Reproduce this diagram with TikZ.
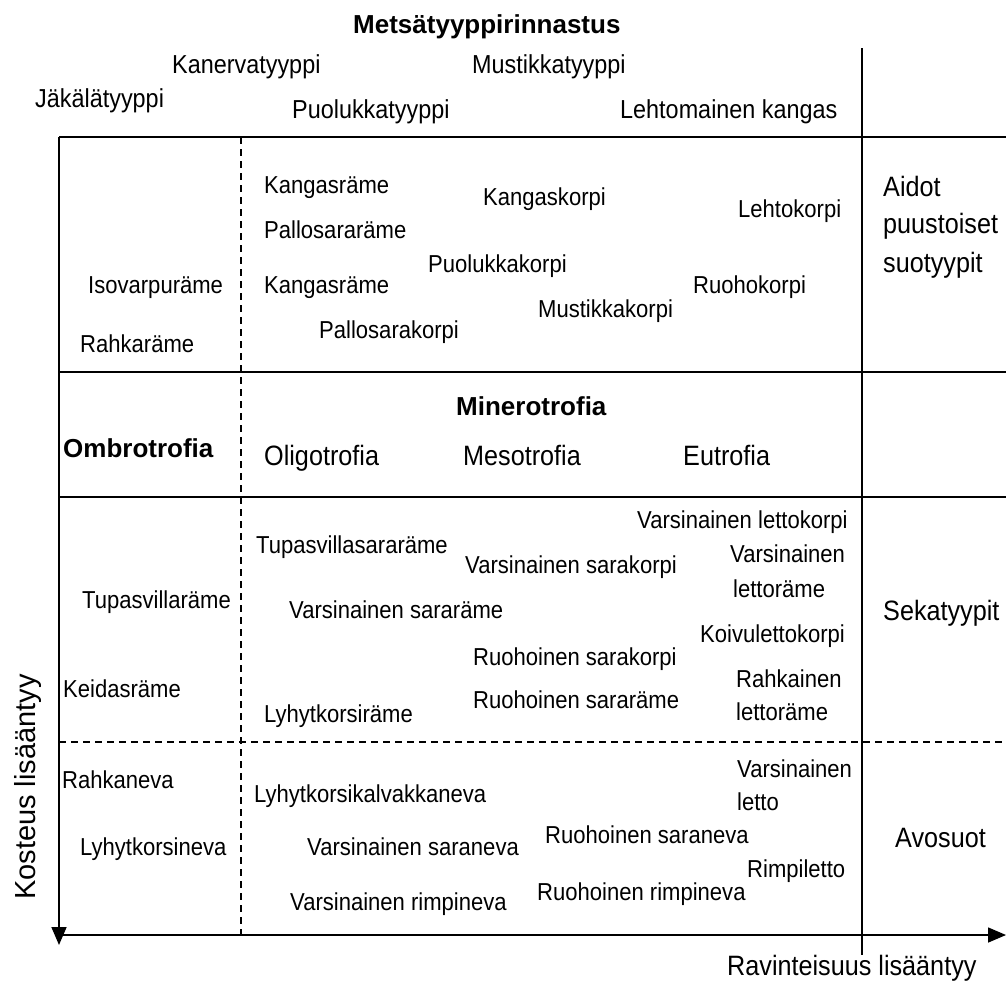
\documentclass[tikz,border=0pt]{standalone}
\usepackage{fontspec}
\setmainfont{Liberation Sans}
\newfontfamily\narrowfont{Liberation Sans}[FakeStretch=0.9]
\usetikzlibrary{arrows.meta}

\begin{document}
\begin{tikzpicture}[
        x=1pt, y=-1pt,
        grid/.style={line width=1.6pt},
        dashgrid/.style={line width=1.4pt, dash pattern=on 7pt off 5pt},
        axis/.style={line width=1.6pt, -{Triangle[length=18pt,width=15pt]}},
        head/.style={anchor=base west, inner sep=0pt, font=\bfseries\fontsize{26}{30}\selectfont},
        foresttype/.style={anchor=base west, inner sep=0pt, font=\narrowfont\fontsize{26}{30}\selectfont},
        trophy/.style={anchor=base west, inner sep=0pt, font=\narrowfont\fontsize{28}{32}\selectfont},
        mire/.style={anchor=base west, inner sep=0pt, font=\narrowfont\fontsize{24.5}{28}\selectfont},
    ]

    \useasboundingbox (0,0) rectangle (1006,983);

    \coordinate (nw) at (59,137);
    \coordinate (ne) at (1006,137);
    \coordinate (w1) at (59,372);
    \coordinate (e1) at (1006,372);
    \coordinate (w2) at (59,497);
    \coordinate (e2) at (1006,497);
    \coordinate (w3) at (59,742);
    \coordinate (e3) at (1006,742);
    \coordinate (sw) at (59,935);
    \coordinate (se) at (1006,935);
    \coordinate (down) at (59,945);
    \coordinate (dtop) at (241,137);
    \coordinate (dbot) at (241,935);
    \coordinate (vtop) at (862,48);
    \coordinate (vbot) at (862,955);

    \draw [grid] (nw) -- (ne);
    \draw [grid] (w1) -- (e1);
    \draw [grid] (w2) -- (e2);
    \draw [dashgrid] (w3) -- (e3);
    \draw [dashgrid] (dtop) -- (dbot);
    \draw [grid] (vtop) -- (vbot);
    \draw [axis] (nw) -- (down);
    \draw [axis] (sw) -- (se);

    \node (title) at (353,33) [head] {Metsätyyppirinnastus};
    \node (kaner) at (172,73) [foresttype] {Kanervatyyppi};
    \node (mustik) at (472,73) [foresttype] {Mustikkatyyppi};
    \node (jakala) at (35,107) [foresttype] {Jäkälätyyppi};
    \node (puoluk) at (292,118) [foresttype] {Puolukkatyyppi};
    \node (lehtom) at (620,118) [foresttype] {Lehtomainen kangas};

    \node (isovarpu) at (88,293) [mire] {Isovarpuräme};
    \node (rahkar) at (80,352) [mire] {Rahkaräme};
    \node (kangasr1) at (264,193) [mire] {Kangasräme};
    \node (pallosr) at (264,238) [mire] {Pallosararäme};
    \node (kangasr2) at (264,293) [mire] {Kangasräme};
    \node (pallosk) at (319,338) [mire] {Pallosarakorpi};
    \node (kangask) at (483,205) [mire] {Kangaskorpi};
    \node (puolukk) at (428,272) [mire] {Puolukkakorpi};
    \node (mustikk) at (538,317) [mire] {Mustikkakorpi};
    \node (lehtok) at (738,217) [mire] {Lehtokorpi};
    \node (ruohok) at (693,293) [mire] {Ruohokorpi};
    \node (aidot) at (883,196) [trophy] {Aidot};
    \node (puust) at (883,233) [trophy] {puustoiset};
    \node (suot) at (883,272) [trophy] {suotyypit};

    \node (minero) at (456,415) [head] {Minerotrofia};
    \node (ombro) at (63,457) [head] {Ombrotrofia};
    \node (oligo) at (264,465) [trophy] {Oligotrofia};
    \node (meso) at (463,465) [trophy] {Mesotrofia};
    \node (eutro) at (683,465) [trophy] {Eutrofia};

    \node (tupasr) at (82,608) [mire] {Tupasvillaräme};
    \node (keidas) at (63,697) [mire] {Keidasräme};
    \node (tupassr) at (256,553) [mire] {Tupasvillasararäme};
    \node (varssr) at (289,618) [mire] {Varsinainen sararäme};
    \node (lyhytr) at (264,722) [mire] {Lyhytkorsiräme};
    \node (varssk) at (465,573) [mire] {Varsinainen sarakorpi};
    \node (ruohsk) at (473,665) [mire] {Ruohoinen sarakorpi};
    \node (ruohsr) at (473,708) [mire] {Ruohoinen sararäme};
    \node (varslk) at (637,528) [mire] {Varsinainen lettokorpi};
    \node (varslr1) at (730,562) [mire] {Varsinainen};
    \node (varslr2) at (733,597) [mire] {lettoräme};
    \node (koivu) at (700,642) [mire] {Koivulettokorpi};
    \node (rahklr1) at (736,687) [mire] {Rahkainen};
    \node (rahklr2) at (736,720) [mire] {lettoräme};
    \node (sekat) at (883,620) [trophy] {Sekatyypit};

    \node (rahkan) at (62,788) [mire] {Rahkaneva};
    \node (lyhytn) at (80,855) [mire] {Lyhytkorsineva};
    \node (lyhytkn) at (254,802) [mire] {Lyhytkorsikalvakkaneva};
    \node (varssn) at (307,855) [mire] {Varsinainen saraneva};
    \node (varsrn) at (290,910) [mire] {Varsinainen rimpineva};
    \node (ruohsn) at (545,843) [mire] {Ruohoinen saraneva};
    \node (ruohrn) at (537,900) [mire] {Ruohoinen rimpineva};
    \node (varsl1) at (737,777) [mire] {Varsinainen};
    \node (varsl2) at (737,810) [mire] {letto};
    \node (rimpi) at (747,877) [mire] {Rimpiletto};
    \node (avos) at (895,847) [trophy] {Avosuot};

    \node (ravint) at (727,975) [trophy] {Ravinteisuus lisääntyy};
    \node (kost) at (35,900) [anchor=base west, inner sep=0pt, rotate=90, font=\fontsize{29}{32}\selectfont] {Kosteus lisääntyy};

\end{tikzpicture}
\end{document}
